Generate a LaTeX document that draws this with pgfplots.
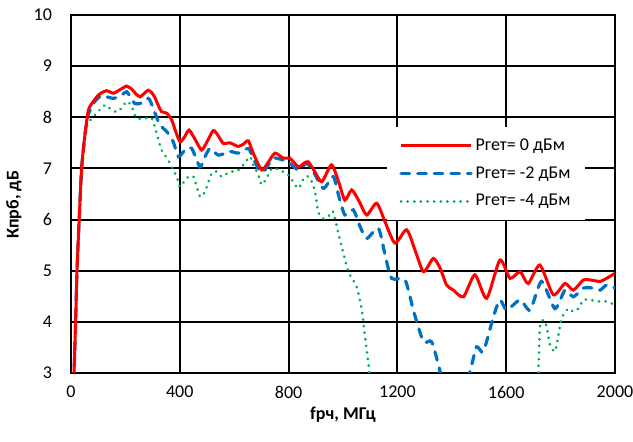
\documentclass[border=0pt]{standalone}
\usepackage{fontspec}
\setmainfont{Carlito}
\usepackage{pgfplots}
\pgfplotsset{compat=1.18}
\definecolor{cRed}{HTML}{FF0000}
\definecolor{cBlue}{HTML}{0070C0}
\definecolor{cGreen}{HTML}{00B050}

\begin{document}
\begin{tikzpicture}
\useasboundingbox (-35.5pt,-34.5pt) rectangle (281pt,186.5pt);
\begin{axis}[
    at={(0pt,0pt)}, anchor=south west,
    scale only axis,
    width=272pt, height=179pt,
    xmin=0, xmax=2000, ymin=3, ymax=10,
    xtick={0,400,...,2000},
    ytick={3,4,...,10},
    grid=major,
    grid style={black, line width=1pt},
    axis line style={black, line width=1pt},
    major tick length=0pt,
    font=\fontsize{9}{11}\selectfont,
    /pgf/number format/assume math mode=true,
    /pgf/number format/1000 sep={},
    yticklabel style={xshift=-6pt},
    xticklabel style={yshift=-3pt},
    xlabel={\textbf{fрч, МГц}},
    ylabel={\textbf{Кпрб, дБ}},
    xlabel style={at={(axis description cs:0.5,0)}, anchor=center, yshift=-21pt},
    ylabel style={at={(axis description cs:0,0.47)}, anchor=center, yshift=28.5pt, rotate=0},
    legend style={at={(rel axis cs:0.581,0.687)}, anchor=north west, draw=none, fill=white,
        font=\fontsize{9}{11}\selectfont, row sep=3.6pt,
        inner xsep=6pt, inner ysep=4pt,
        nodes={inner sep=1.5pt}},
    legend cell align=left,
    legend image code/.code={\draw[#1] (0pt,0pt) -- (35pt,0pt);},
    reverse legend,
]
\addplot[cGreen, line width=1.5pt, line cap=round, dash pattern=on 0.01pt off 3.3pt, smooth, tension=0.4] coordinates {
(10,2.8) (17,4.0) (23,5.0) (31,6.0) (41,7.0) (50,7.45) (58,7.82) (76,7.98) (94,8.08) (125,8.24) (150,8.14) (174,8.11) (205,8.31) (223,8.21) (241,7.98) (272,7.98) (297,7.98) (315,7.69) (333,7.36) (358,7.16) (376,6.97) (389,6.84) (401,6.64) (425,6.81) (450,6.84) (474,6.45) (493,6.55) (517,6.90) (535,6.94) (554,6.84) (585,6.94) (609,6.94) (634,7.07) (658,7.23) (670,7.07) (689,6.87) (701,6.68) (719,6.81) (738,7.00) (768,6.97) (799,6.87) (817,6.74) (836,6.61) (860,6.84) (879,6.81) (897,6.55) (909,6.15) (928,6.02) (952,6.09) (964,6.15) (989,5.60) (1020,4.98) (1050,4.69) (1069,4.23) (1081,3.71) (1097,3.03) (1110,2.5) (1700,2.5) (1718,3.06) (1724,3.90) (1737,4.04) (1749,3.90) (1761,3.55) (1779,3.42) (1791,3.71) (1804,4.07) (1828,4.26) (1847,4.20) (1865,4.26) (1884,4.43) (1908,4.43) (1939,4.40) (1969,4.40) (2000,4.33)
};
\addlegendentry{Pгет= -4 дБм}
\addplot[cBlue, line width=1.6pt, line cap=round, dash pattern=on 4.3pt off 4pt, smooth, tension=0.4] coordinates {
(10,2.8) (17,4.0) (22,5.0) (30,6.0) (39,7.0) (50,7.6) (61,8.01) (82,8.27) (100,8.38) (113,8.42) (131,8.40) (156,8.37) (174,8.40) (190,8.45) (205,8.50) (220,8.38) (235,8.27) (254,8.27) (284,8.37) (297,8.25) (309,8.08) (327,7.85) (352,7.72) (376,7.52) (395,7.23) (419,7.36) (444,7.39) (474,7.03) (490,7.20) (511,7.39) (542,7.26) (585,7.33) (615,7.30) (652,7.39) (670,7.20) (695,6.94) (713,6.97) (744,7.20) (781,7.16) (805,7.10) (836,6.97) (866,7.10) (891,6.94) (928,6.61) (964,6.84) (985,6.45) (1007,6.09) (1038,6.19) (1060,5.90) (1087,5.63) (1130,5.83) (1155,5.30) (1179,4.85) (1228,4.82) (1260,4.20) (1296,3.61) (1326,3.61) (1357,3.03) (1380,2.5) (1430,2.5) (1467,3.03) (1491,3.51) (1516,3.42) (1553,4.10) (1577,4.43) (1602,4.23) (1651,4.43) (1688,4.23) (1730,4.79) (1779,4.26) (1816,4.62) (1847,4.49) (1884,4.66) (1920,4.66) (1945,4.62) (1969,4.72) (2000,4.66)
};
\addlegendentry{Pгет= -2 дБм}
\addplot[cRed, line width=1.5pt, smooth, tension=0.4] coordinates {
(10,2.8) (17,4.0) (22,5.0) (30,6.0) (39,7.0) (50,7.6) (64,8.14) (82,8.31) (100,8.43) (113,8.48) (131,8.52) (156,8.47) (174,8.52) (190,8.57) (205,8.61) (223,8.55) (240,8.45) (254,8.40) (270,8.47) (284,8.53) (297,8.48) (309,8.38) (322,8.22) (333,8.11) (352,8.08) (370,7.95) (385,7.72) (401,7.52) (418,7.62) (434,7.75) (455,7.58) (480,7.36) (500,7.52) (523,7.74) (540,7.65) (560,7.49) (585,7.50) (615,7.43) (635,7.48) (652,7.54) (670,7.30) (701,6.97) (725,7.12) (750,7.30) (781,7.20) (805,7.20) (836,7.03) (856,7.10) (872,7.13) (895,6.95) (922,6.74) (958,7.07) (985,6.72) (1007,6.38) (1032,6.58) (1060,6.35) (1087,6.09) (1124,6.32) (1155,5.95) (1191,5.54) (1234,5.80) (1265,5.40) (1296,4.98) (1332,5.24) (1357,5.05) (1381,4.72) (1406,4.62) (1443,4.49) (1485,4.92) (1528,4.46) (1577,5.21) (1614,4.85) (1651,4.98) (1681,4.75) (1724,5.11) (1773,4.53) (1816,4.75) (1847,4.62) (1884,4.82) (1920,4.81) (1945,4.79) (1969,4.85) (2000,4.95)
};
\addlegendentry{Pгет= 0 дБм}
\end{axis}
\end{tikzpicture}
\end{document}
